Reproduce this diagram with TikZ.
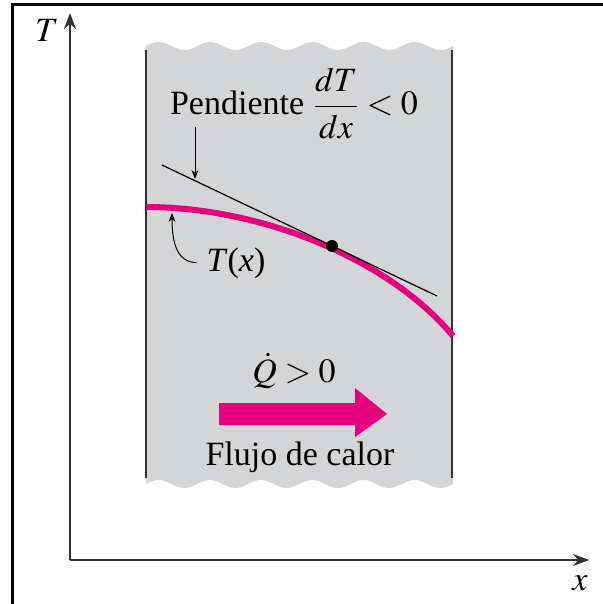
\documentclass[tikz,border=0pt]{standalone}
\usepackage{amsmath}
\usepackage{mathptmx}
\usepackage{fontspec}
\setmainfont{Liberation Serif}
\usetikzlibrary{arrows.meta,positioning}
\definecolor{slabgray}{RGB}{212,213,215}
\definecolor{hotpink}{RGB}{230,0,126}
\definecolor{axisgray}{RGB}{50,50,50}

\begin{document}
\begin{tikzpicture}[
x=0.5pt, y=-0.5pt,
lbl/.style={font=\fontsize{17}{20}\selectfont, inner sep=0pt},
axis/.style={-{Stealth[length=8pt,width=6pt]}, line width=1pt, draw=axisgray},
pointer/.style={-{Stealth[length=4.5pt,width=3.5pt]}, line width=0.5pt},
wall/.style={line width=1pt, draw=axisgray},
heat/.style={line width=3pt, draw=hotpink},
dot/.style={circle, fill=black, inner sep=0pt, minimum size=6pt}
]
\useasboundingbox (0,0) rectangle (603,604);
% frame
\draw[line width=1.5pt] (12,604) -- (12,5) -- (603,5);
% slab
\fill[slabgray] (146,46) \foreach \k in {1,...,6} {sin ++(12.8,-4) cos ++(12.8,4) sin ++(12.8,4) cos ++(12.8,-4)}
  -- (453,484) \foreach \k in {1,...,6} {sin ++(-12.8,4) cos ++(-12.8,-4) sin ++(-12.8,-4) cos ++(-12.8,4)} -- cycle;
\draw[wall] (146,50) -- (146,478);
\draw[wall] (452,50) -- (452,478);
% axes
\coordinate (origin) at (70,560);
\coordinate (ytip) at (70,13);
\coordinate (xtip) at (589,560);
\draw[axis] (origin) -- (ytip);
\draw[axis] (origin) -- (xtip);
\node[lbl] (Tlab) at (47,30) {$T$};
\node[lbl] (xlab) at (580,583) {$x$};
% T(x) and slope
\coordinate (Tleft) at (146,207);
\coordinate (Tright) at (453,336);
\draw[heat] (Tleft) .. controls (260,207) and (388,258) .. (Tright);
\coordinate (tanA) at (162,165);
\coordinate (tanB) at (437,296);
\draw[line width=0.6pt] (tanA) -- (tanB);
\node[dot] (pt) at (332,246) {};
\node[lbl, anchor=base] (pend) at (294,115) {Pendiente $\dfrac{dT}{dx} < 0$};
\coordinate (pendtail) at (195,127);
\coordinate (pendtip) at (195,179);
\draw[pointer] (pendtail) -- (pendtip);
\node[lbl] (Tx) at (236,263) {\textit{T}(\textit{x})};
\coordinate (Tcurve) at (172,213);
\draw[pointer, shorten <=5pt] (Tx.west) .. controls (178,262) and (172,245) .. (Tcurve);
% heat flow
\node[lbl, anchor=base] (qdot) at (294,382) {$\dot{Q} > 0$};
\fill[hotpink] (219,403) -- (355,403) -- (355,388) -- (387,414) -- (355,437) -- (355,425) -- (219,425) -- cycle;
\node[lbl, anchor=base] (flujo) at (300,465) {Flujo de calor};
\end{tikzpicture}
\end{document}
